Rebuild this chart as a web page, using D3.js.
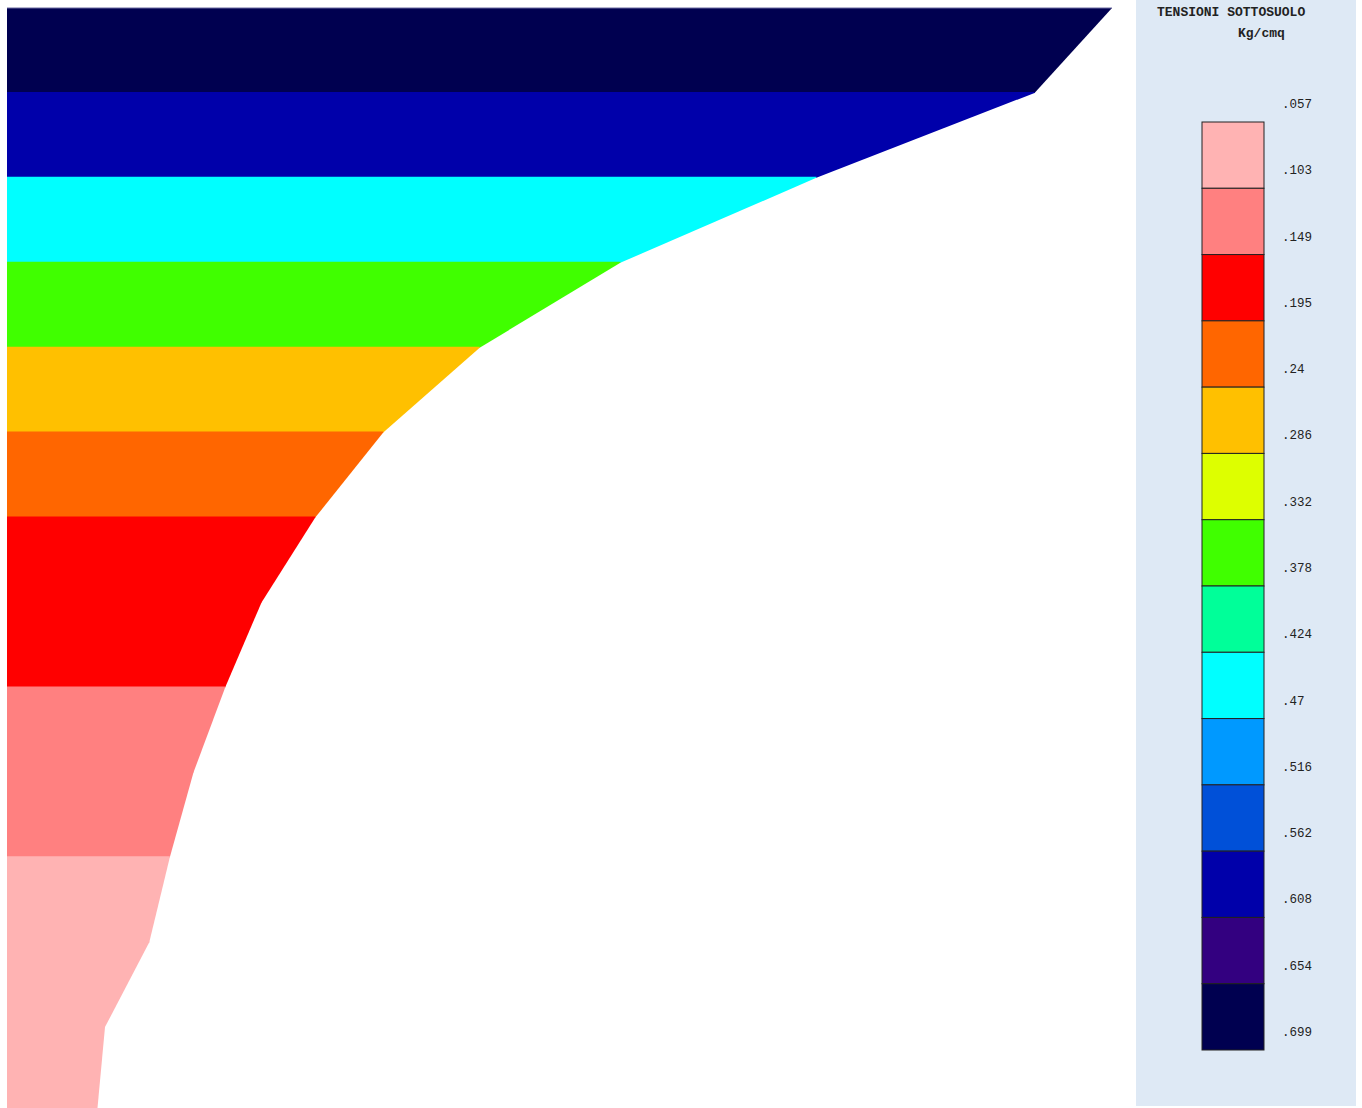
<!DOCTYPE html>
<html>
<head>
    <meta charset="utf-8">
    <script src="https://d3js.org/d3.v7.min.js"></script>
    <title>Tensioni sottosuolo</title>
    <style>
        body { margin: 0; background: #fff; }
        svg { display: block; }
        .lbl { font-family: "Liberation Mono", "DejaVu Sans Mono", monospace; font-size: 12.5px; fill: #222; }
        .ttl { font-family: "Liberation Mono", "DejaVu Sans Mono", monospace; font-size: 13px; font-weight: bold; fill: #222; }
    </style>
</head>
<body>
<svg width="1362" height="1108"></svg>
<script>
    // stress (Kg/cmq) at each depth step, top to bottom
    const depthSteps = [0, 1, 2, 3, 4, 5, 6, 7, 8, 9, 10, 11, 12, 13];
    const stress = [0.699, 0.650, 0.512, 0.388, 0.299, 0.238, 0.195, 0.161, 0.138, 0.118, 0.103, 0.090, 0.062, 0.057];

    // legend classes
    const classBreaks = [".057", ".103", ".149", ".195", ".24", ".286", ".332", ".378", ".424", ".47", ".516", ".562", ".608", ".654", ".699"];
    const classColors = ["#ffb3b3", "#ff8080", "#ff0000", "#ff6600", "#ffc000", "#ddff00", "#40ff00",
                         "#00ff99", "#00ffff", "#0099ff", "#0050d8", "#0000aa", "#330080", "#000050"];

    const svg = d3.select("svg");

    const x = d3.scaleLinear().domain([0, 0.699]).range([7, 1112]);
    const y = d3.scaleLinear().domain([0, 13]).range([8, 1112]);

    const color = d3.scaleThreshold()
        .domain(classBreaks.slice(1, -1).map(Number))
        .range(classColors);

    const g = svg.append("g");

    // one band per depth interval, right edge follows the stress curve
    d3.pairs(d3.zip(depthSteps, stress)).forEach(([a, b], i) => {
        const avg = (a[1] + b[1]) / 2;
        // overlap 1px into the band above so no seam shows
        const up = i === 0 ? 0 : 1;
        const pts = [[x(0), y(a[0]) - up], [x(a[1]), y(a[0]) - up], [x(a[1]), y(a[0])],
                     [x(b[1]), y(b[0])], [x(0), y(b[0])]];
        g.append("path")
            .attr("d", "M" + pts.join("L") + "Z")
            .attr("fill", color(avg));
    });

    // thin edge on top
    g.append("line")
        .attr("x1", x(0)).attr("x2", x(stress[0]))
        .attr("y1", y(0)).attr("y2", y(0))
        .attr("stroke", "#6a6aa0").attr("stroke-width", 1);

    // legend panel
    const lg = svg.append("g");
    lg.append("rect")
        .attr("x", 1136).attr("y", 0)
        .attr("width", 220).attr("height", 1106)
        .attr("fill", "#dee9f5");

    lg.append("text").attr("class", "ttl")
        .attr("x", 1157).attr("y", 16)
        .text("TENSIONI SOTTOSUOLO");
    lg.append("text").attr("class", "ttl")
        .attr("x", 1238).attr("y", 37)
        .text("Kg/cmq");

    const ly = d3.scaleLinear().domain([0, classColors.length]).range([122, 1050]);

    lg.selectAll("rect.box")
        .data(classColors)
        .join("rect")
        .attr("class", "box")
        .attr("x", 1202)
        .attr("y", (d, i) => ly(i))
        .attr("width", 62)
        .attr("height", (d, i) => ly(i + 1) - ly(i))
        .attr("fill", d => d)
        .attr("stroke", "#222")
        .attr("stroke-width", 1);

    lg.selectAll("text.lbl")
        .data(classBreaks)
        .join("text")
        .attr("class", "lbl")
        .attr("x", 1282)
        .attr("y", (d, i) => ly(i) - 14)
        .text(d => d);
</script>
</body>
</html>
